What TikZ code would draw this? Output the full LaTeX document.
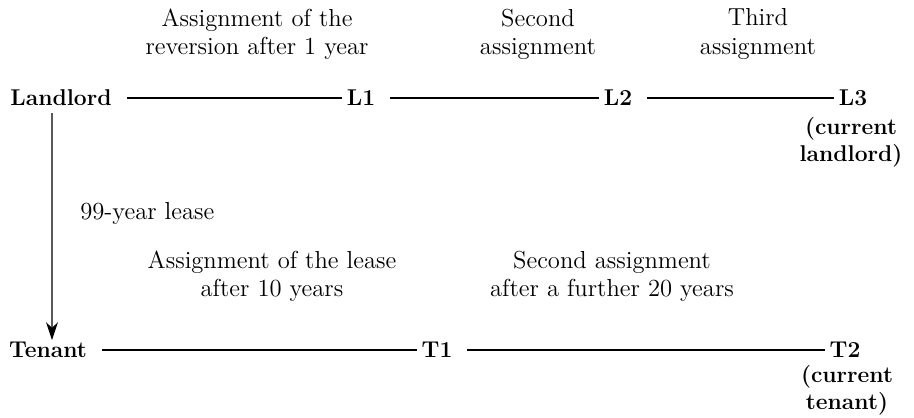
\documentclass[tikz,border=0pt]{standalone}
\usetikzlibrary{arrows.meta,positioning}
\tikzset{
  party/.style={inner sep=1pt, font=\fontsize{13}{16}\selectfont\bfseries},
  subtxt/.style={align=center, inner sep=0pt, font=\fontsize{13}{15.5}\selectfont\bfseries},
  note/.style={align=center, inner sep=0pt, font=\fontsize{14}{16}\selectfont},
  link/.style={line width=0.6pt, shorten <=0.26cm, shorten >=0.06cm},
  arr/.style={-{Stealth[length=3.6mm, width=2.4mm]}, line width=0.6pt, shorten <=0.1cm},
}
\begin{document}
\begin{tikzpicture}[x=0.02cm, y=-0.02cm]
\useasboundingbox (0,0) rectangle (914,418);

% landlord side
\node[party] (ll) at (61,98) {Landlord};
\node[party] (l1) at (361,98) {L1};
\node[party] (l2) at (618,98) {L2};
\node[party] (l3) at (853,98) {L3};
\node[subtxt, below=5pt of l3, xshift=-0.04cm] (l3n) {(current\\landlord)};

\node[note] (asg1) at (257,34) {Assignment of the\\reversion after 1 year};
\node[note] (asg2) at (538,34) {Second\\assignment};
\node[note] (asg3) at (758,34) {Third\\assignment};

% tenant side
\node[party] (tn) at (48,350) {Tenant};
\node[party] (t1) at (437,350) {T1};
\node[party] (t2) at (845,350) {T2};
\node[subtxt, below=3pt of t2, xshift=0.04cm] (t2n) {(current\\tenant)};

\node[note] (tas1) at (272,276) {Assignment of the lease\\after 10 years};
\node[note] (tas2) at (612,276) {Second assignment\\after a further 20 years};

\node[note, anchor=west] (lease) at (80,213) {99-year lease};

\draw[link] (ll) -- (l1);
\draw[link] (l1) -- (l2);
\draw[link] (l2) -- (l3);
\draw[link] (tn) -- (t1);
\draw[link] (t1) -- (t2);
\draw[arr] ([xshift=-0.18cm]ll.south) -- ([xshift=0.08cm]tn.north);

\end{tikzpicture}
\end{document}
